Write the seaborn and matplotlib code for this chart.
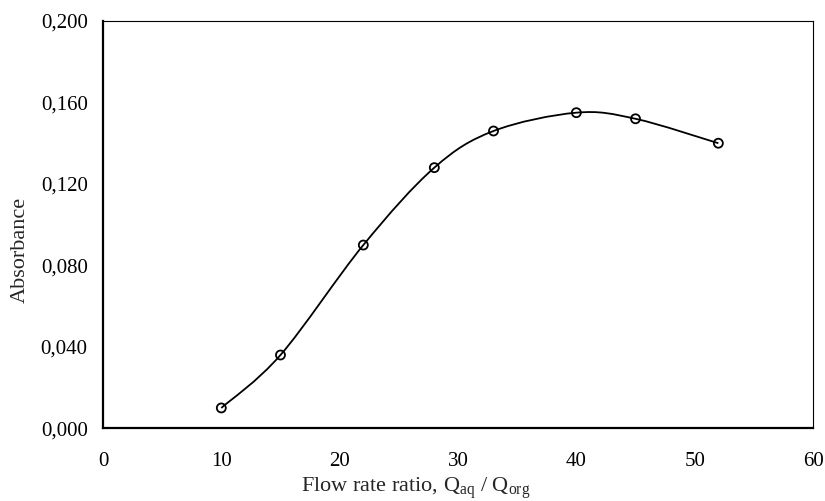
#!/usr/bin/env python3

import numpy as np
import pandas as pd
import seaborn as sns
import matplotlib.pyplot as plt
from matplotlib.path import Path
from matplotlib.patches import PathPatch

ratio = [10, 15, 22, 28, 33, 40, 45, 52]
absorbance = [0.010, 0.036, 0.090, 0.128, 0.146, 0.155, 0.152, 0.140]

x_ticks = [0, 10, 20, 30, 40, 50, 60]
y_ticks = [0.000, 0.040, 0.080, 0.120, 0.160, 0.200]
y_ticklabels = ['0,000', '0,040', '0,080', '0,120', '0,160', '0,200']

df = pd.DataFrame({'ratio': ratio, 'absorbance': absorbance})

sns.set_style('white')
plt.rcParams['font.family'] = ['Liberation Serif', 'DejaVu Serif']
plt.rcParams['mathtext.fontset'] = 'custom'
plt.rcParams['mathtext.rm'] = 'Liberation Serif'
plt.rcParams['mathtext.it'] = 'Liberation Serif:italic'

fig = plt.figure(figsize=(8.25, 5.01), dpi=100)
ax = fig.add_axes([0.1248, 0.1451, 0.8607, 0.8129])


def smooth_path(xs, ys):
    # Excel-style smoothed line: cubic Bezier segments (Catmull-Rom control points)
    pts = np.column_stack([xs, ys]).astype(float)
    n = len(pts)
    verts = [pts[0]]
    codes = [Path.MOVETO]
    for i in range(n - 1):
        p0 = pts[max(i - 1, 0)]
        p1 = pts[i]
        p2 = pts[i + 1]
        p3 = pts[min(i + 2, n - 1)]
        c1 = p1 + (p2 - p0) / 6.0
        c2 = p2 - (p3 - p1) / 6.0
        verts += [c1, c2, p2]
        codes += [Path.CURVE4] * 3
    return Path(verts, codes)


ax.add_patch(PathPatch(smooth_path(df['ratio'], df['absorbance']),
                       facecolor='none', edgecolor='black', lw=1.3, zorder=2))

sns.scatterplot(
        data=df,
        x='ratio',
        y='absorbance',
        ax=ax,
        marker='o',
        s=42,
        facecolor='none',
        edgecolor='black',
        linewidth=1.3,
        zorder=3,
)

ax.set_xlim(0, 60)
ax.set_ylim(0, 0.2)
ax.set_xticks(x_ticks)
ax.set_yticks(y_ticks)
ax.set_yticklabels(y_ticklabels)

for side in ['left', 'bottom']:
    ax.spines[side].set_linewidth(1.6)
for side in ['top', 'right']:
    ax.spines[side].set_linewidth(0.8)
for s in ax.spines.values():
    s.set_color('black')

ax.tick_params(axis='both', direction='out', length=5, width=0.8,
               color='black', labelsize=15, labelcolor='black', pad=6)
ax.tick_params(axis='x', pad=12)

ax.set_xlabel('Flow rate ratio, Q$_\\mathrm{aq}$ / Q$_\\mathrm{org}$', fontsize=16, labelpad=3)
ax.set_ylabel('Absorbance', fontsize=16, labelpad=8)
ax.xaxis.label.set_x(0.44)
ax.yaxis.label.set_y(0.437)

plt.savefig('out.png', dpi=100)
